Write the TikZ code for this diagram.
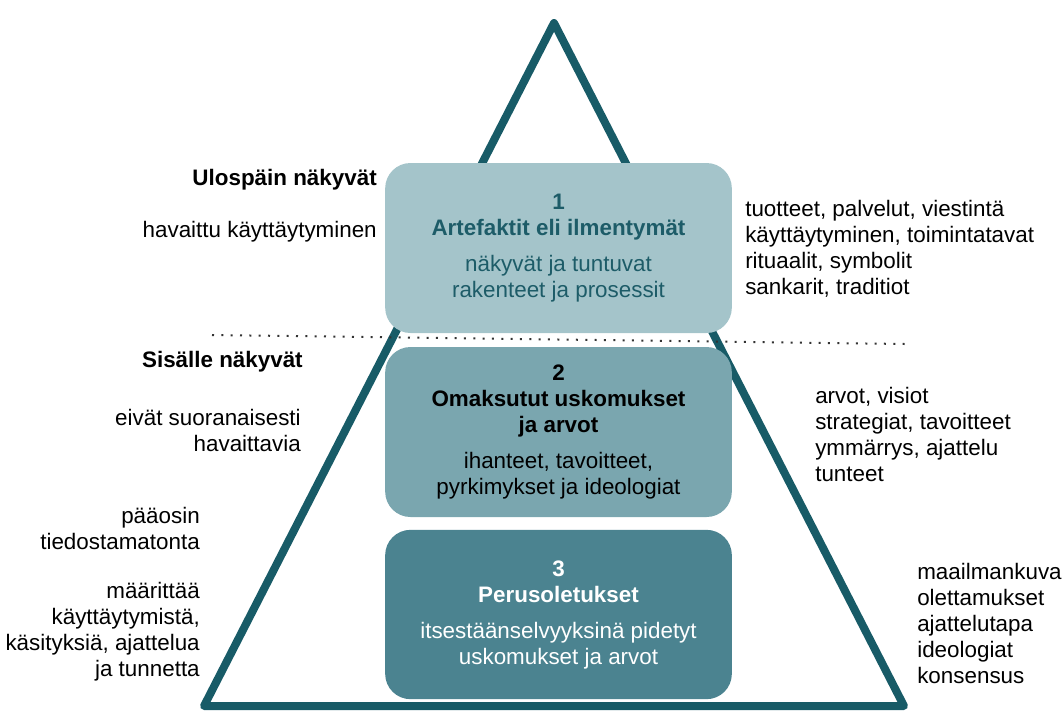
\documentclass[tikz,border=0pt]{standalone}
\usepackage{fontspec}
\setmainfont{Liberation Sans}
\usetikzlibrary{positioning}

\definecolor{pyramidline}{HTML}{185B67}
\definecolor{layerone}{HTML}{A4C4CA}
\definecolor{layertwo}{HTML}{7AA6AF}
\definecolor{layerthree}{HTML}{4B8390}
\definecolor{onetext}{HTML}{1D5C68}

\begin{document}
\begin{tikzpicture}[
    x=0.75pt, y=-0.75pt,
    layer/.style={
        rectangle,
        rounded corners=19pt,
        align=center,
        minimum width=260pt,
        minimum height=127.5pt,
        inner sep=0pt,
        font=\fontsize{16.8}{19.5}\selectfont
    },
    note/.style={
        inner sep=0pt,
        font=\fontsize{16.8}{19.5}\selectfont
    },
    leftnote/.style={note, anchor=east, align=right},
    rightnote/.style={note, anchor=west, align=left},
    pyramid/.style={draw=pyramidline, line width=6pt, line join=round},
    divider/.style={draw=black!80, line width=1.5pt, dash pattern=on 1.5pt off 5.5pt}
]
\useasboundingbox (0,0) rectangle (1062,711);

% pyramid outline
\draw[pyramid] (554,23) -- (904,706) -- (204,706) -- cycle;

% the three levels
\node[layer, fill=layerone, text=onetext] (artefakt) at (558.5,248)
    {\textbf{1}\\\textbf{Artefaktit eli ilmentymät}\\[7.5pt]näkyvät ja tuntuvat\\rakenteet ja prosessit};
\node[layer, fill=layertwo, text=black] (arvot) at (558.5,432)
    {\textbf{2}\\\textbf{Omaksutut uskomukset}\\\textbf{ja arvot}\\[7.5pt]ihanteet, tavoitteet,\\pyrkimykset ja ideologiat};
\node[layer, fill=layerthree, text=white, minimum height=127pt] (oletus) at (558.5,614.5)
    {\textbf{3}\\\textbf{Perusoletukset}\\[7.5pt]itsestäänselvyyksinä pidetyt\\uskomukset ja arvot};

% visible / invisible border
\coordinate (rajaL) at (212,335);
\coordinate (rajaR) at (905,344);
\draw[divider] (rajaL) -- (rajaR);

% left side
\node[leftnote, font=\fontsize{16.8}{19.5}\selectfont\bfseries] (ulos) at (377,180) {Ulospäin näkyvät};
\node[leftnote] (havaittu) at (377,232) {havaittu käyttäytyminen};
\node[leftnote, font=\fontsize{16.8}{19.5}\selectfont\bfseries] (sisalle) at (303,362) {Sisälle näkyvät};
\node[leftnote] (eivat) at (301,430) {eivät suoranaisesti\\havaittavia};
\node[leftnote] (paaosin) at (200,528.5) {pääosin\\tiedostamatonta};
\node[leftnote] (maarittaa) at (200,631.5) {määrittää\\käyttäytymistä,\\käsityksiä, ajattelua\\ja tunnetta};

% right side
\node[rightnote] (tuotteet) at (745,249) {tuotteet, palvelut, viestintä\\käyttäytyminen, toimintatavat\\rituaalit, symbolit\\sankarit, traditiot};
\node[rightnote] (visiot) at (815,434.5) {arvot, visiot\\strategiat, tavoitteet\\ymmärrys, ajattelu\\tunteet};
\node[rightnote] (maailma) at (917,623) {maailmankuva\\olettamukset\\ajattelutapa\\ideologiat\\konsensus};
\end{tikzpicture}
\end{document}
